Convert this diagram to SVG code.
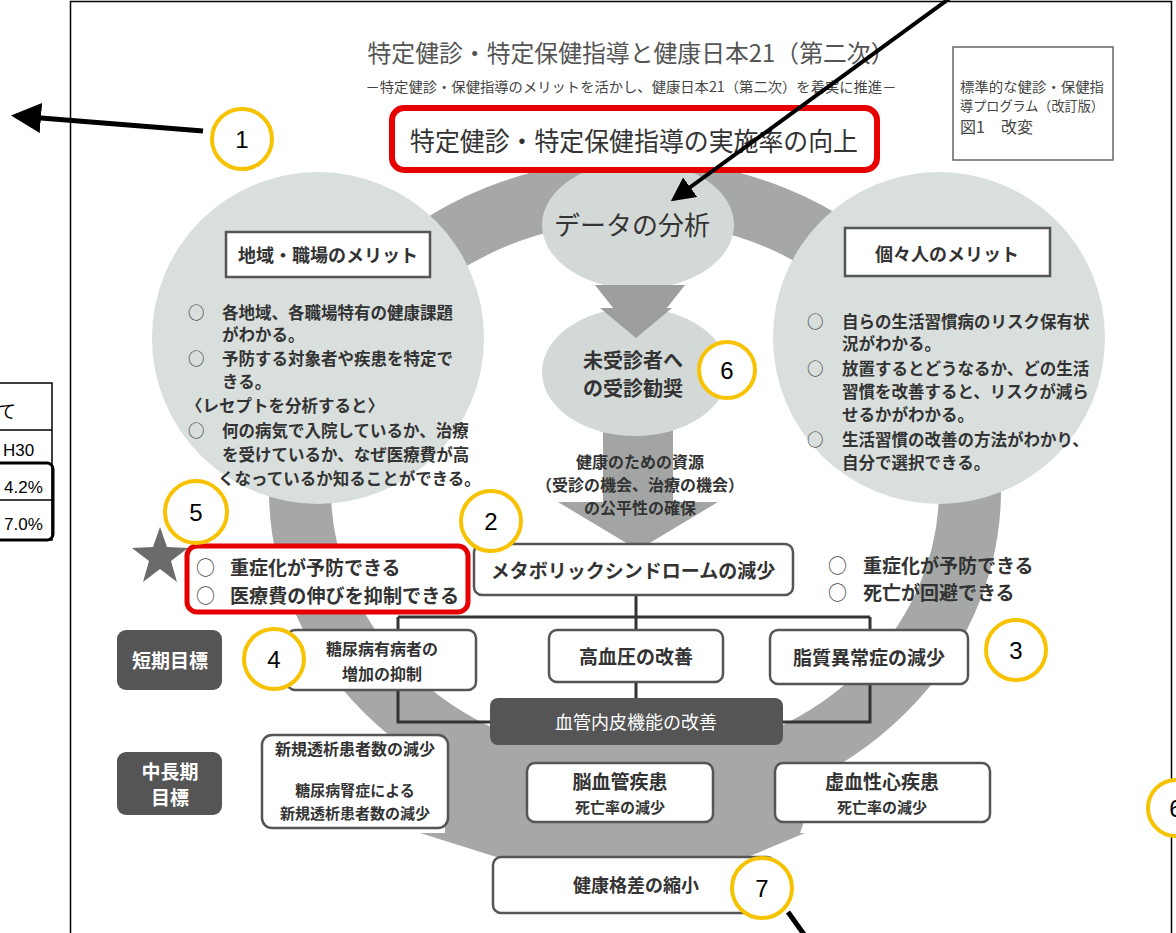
<svg xmlns="http://www.w3.org/2000/svg" width="1176" height="933" viewBox="0 0 1176 933">
<defs>
<style>
.jp{font-family:'Noto Sans CJK JP','Noto Sans CJK SC',sans-serif;}
.t{font-family:'Noto Sans CJK JP',sans-serif;fill:#333;font-weight:bold;}
.num{font-family:'Liberation Sans',Arial,sans-serif;font-size:24px;fill:#000;text-anchor:middle;}
.badge{fill:#fff;stroke:#F7C200;stroke-width:4;}
.wbox{fill:#fff;stroke:#555;stroke-width:2.5;}
.dbox{fill:#555;}
.conn{stroke:#333;stroke-width:3;fill:none;}
.bg{fill:#d9dfdd;}
</style>
<marker id="ah" markerWidth="6" markerHeight="6" refX="5" refY="3" orient="auto" markerUnits="strokeWidth">
<path d="M0,0 L6,3 L0,6 Z" fill="#000"/>
</marker>
</defs>
<rect width="1176" height="933" fill="#fff"/>

<!-- outside table fragment -->
<g id="table-fragment">
<path d="M-5,383 H52 V540 H-5 M-5,430 H52" fill="none" stroke="#000" stroke-width="1.5"/>
<rect x="-10" y="463" width="63" height="77" rx="6" fill="none" stroke="#000" stroke-width="3"/>
<line x1="-5" y1="500" x2="52" y2="500" stroke="#000" stroke-width="1.5"/>
<text x="-2" y="418" class="jp" font-size="18" fill="#000">て</text>
<text x="3" y="456" font-family="Liberation Sans,Arial,sans-serif" font-size="17" fill="#000">H30</text>
<text x="4" y="493" font-family="Liberation Sans,Arial,sans-serif" font-size="17" fill="#000">4.2%</text>
<text x="4" y="530" font-family="Liberation Sans,Arial,sans-serif" font-size="17" fill="#000">7.0%</text>
</g>

<!-- frame -->
<rect x="70.5" y="1.5" width="1101" height="960" fill="none" stroke="#000" stroke-width="1.5"/>

<!-- background cycle -->
<g id="cycle-ring">
<ellipse cx="635" cy="490" rx="335" ry="300" fill="none" stroke="#a5a8a7" stroke-width="62"/>
<path d="M445,728 H838 L800,833 H445 Z" fill="#a5a8a7"/>
<path d="M420,833 L805,833 L640,902 Z" fill="#a5a8a7"/>
</g>

<g id="circle-left">
<circle cx="318" cy="338" r="166" class="bg"/>
<rect x="226" y="232" width="204" height="45" class="wbox"/>
<text x="328" y="262" class="t" font-size="18" text-anchor="middle">地域・職場のメリット</text>
<g class="t" font-size="16.5">
<text x="188" y="319" font-weight="normal">○</text><text x="222" y="319">各地域、各職場特有の健康課題</text>
<text x="222" y="341">がわかる。</text>
<text x="188" y="365" font-weight="normal">○</text><text x="222" y="365">予防する対象者や疾患を特定で</text>
<text x="222" y="388">きる。</text>
<text x="186" y="412">〈レセプトを分析すると〉</text>
<text x="188" y="437" font-weight="normal">○</text><text x="222" y="437">何の病気で入院しているか、治療</text>
<text x="222" y="461">を受けているか、なぜ医療費が高</text>
<text x="218" y="485">くなっているか知ることができる。</text>
</g>
</g>

<g id="circle-right">
<circle cx="939" cy="338" r="166" class="bg"/>
<rect x="845" y="228" width="205" height="48" class="wbox"/>
<text x="947" y="261" class="t" font-size="18" text-anchor="middle">個々人のメリット</text>
<g class="t" font-size="16.5">
<text x="807" y="328" font-weight="normal">○</text><text x="842" y="328">自らの生活習慣病のリスク保有状</text>
<text x="842" y="350">況がわかる。</text>
<text x="807" y="375" font-weight="normal">○</text><text x="842" y="375">放置するとどうなるか、どの生活</text>
<text x="842" y="398">習慣を改善すると、リスクが減ら</text>
<text x="842" y="421">せるかがわかる。</text>
<text x="807" y="446" font-weight="normal">○</text><text x="842" y="446">生活習慣の改善の方法がわかり、</text>
<text x="842" y="469">自分で選択できる。</text>
</g>
</g>

<g id="data-analysis">
<ellipse cx="638" cy="225" rx="96" ry="64" fill="#d3d9d7"/>
<text x="632" y="235" class="jp" font-size="26" fill="#333" text-anchor="middle">データの分析</text>
</g>

<g id="flow-arrows">
<path d="M595,285 H685 L640,342 Z" fill="#9c9f9e"/>
<path d="M603,430 H673 V502 H718 L638,550 L558,502 H603 Z" fill="#a2a5a4"/>
</g>

<g id="unscreened">
<ellipse cx="635" cy="372" rx="93" ry="64" fill="#d3d9d7"/>
<path d="M600,308 H672 L636,338 Z" fill="#9c9f9e"/>
<text x="633" y="368" class="t" font-size="20" text-anchor="middle">未受診者へ</text>
<text x="633" y="396" class="t" font-size="20" text-anchor="middle">の受診勧奨</text>
</g>

<g id="resource-text" class="t" font-size="16" text-anchor="middle">
<text x="640" y="468">健康のための資源</text>
<text x="640" y="491">（受診の機会、治療の機会）</text>
<text x="640" y="514">の公平性の確保</text>
</g>

<g id="title">
<text x="631" y="62" class="jp" font-size="24" fill="#555" text-anchor="middle" textLength="527" lengthAdjust="spacingAndGlyphs">特定健診・特定保健指導と健康日本21（第二次）</text>
<text x="631" y="92" class="jp" font-size="14" fill="#444" text-anchor="middle" textLength="531" lengthAdjust="spacingAndGlyphs">－特定健診・保健指導のメリットを活かし、健康日本21（第二次）を着実に推進－</text>
</g>

<g id="goal-rate">
<rect x="392" y="108" width="485" height="62" rx="12" fill="#fff" stroke="#e60000" stroke-width="6"/>
<text x="634" y="151" class="jp" font-size="26" fill="#333" text-anchor="middle" textLength="448" lengthAdjust="spacingAndGlyphs">特定健診・特定保健指導の実施率の向上</text>
</g>

<g id="source-note">
<rect x="953" y="47" width="160" height="113" fill="#fff" stroke="#666" stroke-width="1.5"/>
<text x="960" y="92" class="jp" font-size="13.5" fill="#444" textLength="144" lengthAdjust="spacingAndGlyphs">標準的な健診・保健指</text>
<text x="960" y="111" class="jp" font-size="13.5" fill="#444" textLength="144" lengthAdjust="spacingAndGlyphs">導プログラム（改訂版）</text>
<text x="960" y="133" class="jp" font-size="16" fill="#444">図1　改変</text>
</g>

<g id="star">
<polygon points="160,527 167,547 188,548 171,561 177,582 160,569 143,582 149,561 132,548 153,547" fill="#6b6b6b"/>
</g>

<g id="benefit-left">
<rect x="187" y="546" width="281" height="66" rx="10" fill="#fff" stroke="#e60000" stroke-width="5"/>
<text x="196" y="575" class="jp" font-size="19" fill="#444">○</text>
<text x="230" y="575" class="t" font-size="19">重症化が予防できる</text>
<text x="196" y="603" class="jp" font-size="19" fill="#444">○</text>
<text x="230" y="603" class="t" font-size="19" textLength="229" lengthAdjust="spacingAndGlyphs">医療費の伸びを抑制できる</text>
</g>

<g id="benefit-right">
<text x="828" y="573" class="jp" font-size="19" fill="#444">○</text>
<text x="863" y="573" class="t" font-size="19">重症化が予防できる</text>
<text x="828" y="600" class="jp" font-size="19" fill="#444">○</text>
<text x="863" y="600" class="t" font-size="19">死亡が回避できる</text>
</g>

<g id="connectors">
<path class="conn" d="M636,595 V617 M398,617 H870 M398,617 V630 M636,617 V630 M870,617 V630"/>
<path class="conn" d="M398,690 V722 H490 M636,682 V698 M870,684 V722 H783"/>
<line x1="203" y1="131" x2="16" y2="116" stroke="#000" stroke-width="5" marker-end="url(#ah)"/>
<line x1="950" y1="-2" x2="674" y2="199" stroke="#000" stroke-width="4" marker-end="url(#ah)"/>
<line x1="788" y1="912" x2="808" y2="940" stroke="#000" stroke-width="5"/>
</g>

<g id="metabo">
<rect x="474" y="544" width="319" height="51" rx="8" class="wbox"/>
<text x="633" y="578" class="t" font-size="19" text-anchor="middle">メタボリックシンドロームの減少</text>
</g>

<g id="short-term-label">
<rect x="117" y="630" width="105" height="60" rx="9" class="dbox"/>
<text x="170" y="668" class="jp" font-size="19" fill="#fff" font-weight="bold" text-anchor="middle">短期目標</text>
</g>

<g id="diabetes">
<rect x="287" y="630" width="189" height="60" rx="8" class="wbox"/>
<text x="382" y="655" class="t" font-size="16" text-anchor="middle">糖尿病有病者の</text>
<text x="382" y="680" class="t" font-size="16" text-anchor="middle">増加の抑制</text>
</g>

<g id="hypertension">
<rect x="549" y="630" width="174" height="52" rx="8" class="wbox"/>
<text x="636" y="664" class="t" font-size="19" text-anchor="middle">高血圧の改善</text>
</g>

<g id="dyslipidemia">
<rect x="770" y="630" width="198" height="54" rx="8" class="wbox"/>
<text x="869" y="665" class="t" font-size="19" text-anchor="middle">脂質異常症の減少</text>
</g>

<g id="endothelial">
<rect x="490" y="698" width="293" height="47" rx="8" class="dbox"/>
<text x="636" y="729" class="jp" font-size="18" fill="#fff" text-anchor="middle">血管内皮機能の改善</text>
</g>

<g id="mid-term-label">
<rect x="117" y="752" width="105" height="63" rx="9" class="dbox"/>
<text x="170" y="779" class="jp" font-size="19" fill="#fff" font-weight="bold" text-anchor="middle">中長期</text>
<text x="170" y="805" class="jp" font-size="19" fill="#fff" font-weight="bold" text-anchor="middle">目標</text>
</g>

<g id="dialysis">
<rect x="262" y="735" width="186" height="93" rx="10" class="wbox"/>
<text x="355" y="755" class="t" font-size="16" text-anchor="middle">新規透析患者数の減少</text>
<text x="355" y="796" class="t" font-size="15" text-anchor="middle">糖尿病腎症による</text>
<text x="355" y="819" class="t" font-size="15" text-anchor="middle">新規透析患者数の減少</text>
</g>

<g id="cerebro">
<rect x="527" y="763" width="186" height="59" rx="8" class="wbox"/>
<text x="620" y="789" class="t" font-size="19" text-anchor="middle">脳血管疾患</text>
<text x="620" y="813" class="t" font-size="15" text-anchor="middle">死亡率の減少</text>
</g>

<g id="ischemic">
<rect x="775" y="763" width="215" height="59" rx="8" class="wbox"/>
<text x="882" y="789" class="t" font-size="19" text-anchor="middle">虚血性心疾患</text>
<text x="882" y="813" class="t" font-size="15" text-anchor="middle">死亡率の減少</text>
</g>

<g id="health-gap">
<rect x="493" y="857" width="282" height="56" rx="8" class="wbox"/>
<text x="636" y="892" class="t" font-size="18" text-anchor="middle">健康格差の縮小</text>
</g>

<g id="badges">
<g id="badge-1"><circle cx="242" cy="139" r="30" class="badge"/><text x="242" y="148" class="num">1</text></g>
<g id="badge-2"><circle cx="491" cy="521" r="30" class="badge"/><text x="491" y="530" class="num">2</text></g>
<g id="badge-3"><circle cx="1016" cy="650" r="30" class="badge"/><text x="1016" y="659" class="num">3</text></g>
<g id="badge-4"><circle cx="274" cy="659" r="30" class="badge"/><text x="274" y="668" class="num">4</text></g>
<g id="badge-5"><circle cx="196" cy="512" r="31" class="badge"/><text x="196" y="521" class="num">5</text></g>
<g id="badge-6"><circle cx="727" cy="370" r="28" class="badge"/><text x="727" y="379" class="num">6</text></g>
<g id="badge-6b"><circle cx="1176" cy="808" r="28" class="badge"/><text x="1176" y="817" class="num">6</text></g>
<g id="badge-7"><circle cx="762" cy="888" r="30" class="badge"/><text x="762" y="897" class="num">7</text></g>
</g>
</svg>
